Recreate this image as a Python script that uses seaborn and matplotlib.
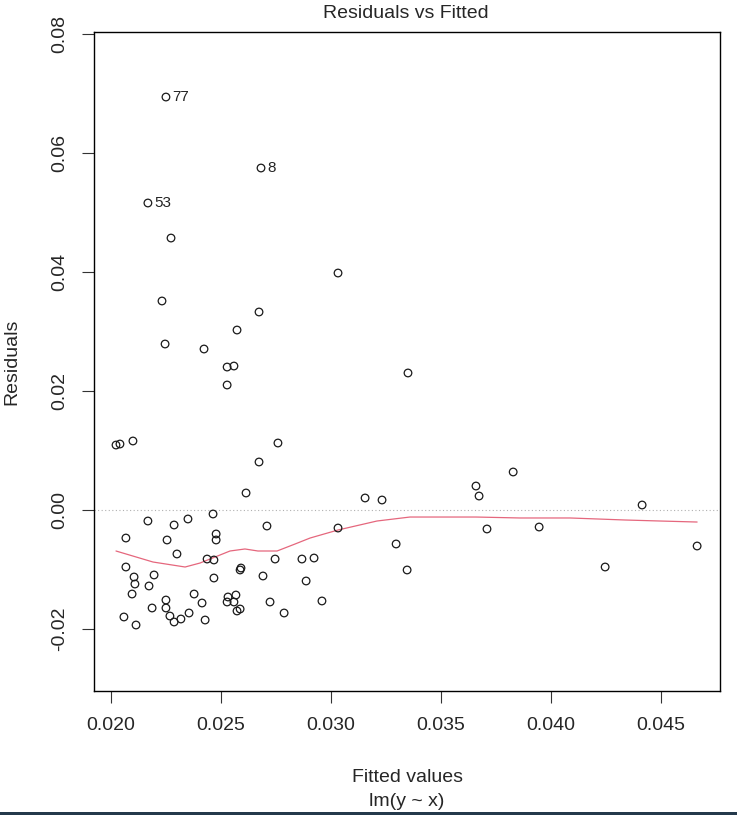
"""
Residuals vs Fitted diagnostic plot (R plot.lm style) rebuilt with seaborn.
"""

import numpy as np
import pandas as pd
import matplotlib
matplotlib.use("Agg")
import matplotlib.pyplot as plt
from matplotlib.patches import Rectangle
import seaborn as sns

fitted = [
    0.02252, 0.02684, 0.02170, 0.02275, 0.03034, 0.02234, 0.02675, 0.02575,
    0.02248, 0.02425, 0.02530, 0.02561, 0.02530, 0.03352, 0.02025, 0.02043,
    0.02102, 0.02761, 0.02675, 0.02616, 0.03830, 0.03661, 0.03675, 0.03157,
    0.03234, 0.04416, 0.02466, 0.02170, 0.02289, 0.02352, 0.02711, 0.03034,
    0.03711, 0.03948, 0.02070, 0.02257, 0.02480, 0.02480, 0.03298, 0.04666,
    0.02302, 0.02439, 0.02470, 0.02748, 0.02870, 0.02925, 0.02070, 0.03348,
    0.04248, 0.02107, 0.02111, 0.02198, 0.02175, 0.02098, 0.02470, 0.02589,
    0.02593, 0.02693, 0.02889, 0.02380, 0.02252, 0.02252, 0.02189, 0.02270,
    0.02289, 0.02320, 0.02357, 0.02416, 0.02430, 0.02534, 0.02570, 0.02530,
    0.02561, 0.02575, 0.02589, 0.02725, 0.02789, 0.02961, 0.02061, 0.02116,
]
resid = [
    0.06941, 0.05748, 0.05160, 0.04571, 0.03983, 0.03513, 0.03328, 0.03025,
    0.02790, 0.02706, 0.02403, 0.02420, 0.02101, 0.02303, 0.01092, 0.01109,
    0.01160, 0.01126, 0.00807, 0.00286, 0.00639, 0.00403, 0.00235, 0.00202,
    0.00168, 0.00084, -0.00067, -0.00185, -0.00252, -0.00151, -0.00269, -0.00303,
    -0.00319, -0.00286, -0.00471, -0.00504, -0.00403, -0.00504, -0.00571, -0.00605,
    -0.00739, -0.00824, -0.00840, -0.00824, -0.00824, -0.00807, -0.00958, -0.01008,
    -0.00958, -0.01126, -0.01244, -0.01092, -0.01277, -0.01412, -0.01143, -0.01008,
    -0.00975, -0.01109, -0.01193, -0.01412, -0.01513, -0.01647, -0.01647, -0.01782,
    -0.01882, -0.01832, -0.01731, -0.01563, -0.01849, -0.01462, -0.01429, -0.01546,
    -0.01546, -0.01697, -0.01664, -0.01546, -0.01731, -0.01529, -0.01798, -0.01933,
]
# observation numbers of the three flagged points (index into the lists above)
flagged_ids = ["77", "8", "53"]
flagged_pos = [0, 1, 2]

# lowess smoother as drawn in the reference
smooth_x = [0.02025, 0.02193, 0.02339, 0.02407, 0.02475, 0.02543, 0.02611,
            0.02670, 0.02757, 0.02839, 0.02907, 0.03034, 0.03211, 0.03361,
            0.03511, 0.03661, 0.03861, 0.04089, 0.04339, 0.04498, 0.04666]
smooth_y = [-0.00689, -0.00874, -0.00958, -0.00891, -0.00790, -0.00689, -0.00655,
            -0.00689, -0.00689, -0.00571, -0.00471, -0.00336, -0.00185, -0.00118,
            -0.00118, -0.00118, -0.00134, -0.00134, -0.00168, -0.00185, -0.00202]

x_ticks = [0.020, 0.025, 0.030, 0.035, 0.040, 0.045]
y_ticks = [-0.02, 0.00, 0.02, 0.04, 0.06, 0.08]

sns.set_style("white")
plt.rcParams["font.family"] = ["Liberation Sans", "DejaVu Sans"]

df = pd.DataFrame({"fitted": fitted, "resid": resid})
smooth = pd.DataFrame({"x": smooth_x, "y": smooth_y})

fig = plt.figure(figsize=(7.37, 8.15), dpi=100)
ax = fig.add_axes([94 / 737, 1 - 691 / 815, 626 / 737, 659 / 815])

ax.axhline(0, color="#b0b0b0", linestyle=(0, (1, 2.2)), linewidth=0.8, zorder=1)
sns.lineplot(data=smooth, x="x", y="y", sort=False, estimator=None,
             color="#E5677D", linewidth=0.9, ax=ax, zorder=2)
sns.scatterplot(data=df, x="fitted", y="resid", ax=ax, s=30, marker="o",
                facecolor="none", edgecolor="#1a1a1a", linewidth=0.9, zorder=3)

for lab, i in zip(flagged_ids, flagged_pos):
    ax.annotate(lab, (fitted[i], resid[i]), xytext=(4.3, 0), textcoords="offset points",
                ha="left", va="center", fontsize=11, color="#222222")

ax.set_xlim(0.01925, 0.04770)
ax.set_ylim(-0.03042, 0.08034)
ax.set_xticks(x_ticks)
ax.set_xticklabels([f"{v:.3f}" for v in x_ticks])
ax.set_yticks(y_ticks)
ax.set_yticklabels([f"{v:.2f}" for v in y_ticks], rotation=90, va="center")
ax.tick_params(axis="both", direction="out", length=8.5, width=0.8, color="#333333",
               labelsize=14, bottom=True, left=True)
ax.tick_params(axis="x", pad=10)
ax.tick_params(axis="y", pad=10)
ax.set_xlabel("")
ax.set_ylabel("")
for sp in ax.spines.values():
    sp.set_color("black")
    sp.set_linewidth(1.0)

fig.text(405.5 / 737, 1 - 13.5 / 815, "Residuals vs Fitted", ha="center", va="center", fontsize=14)
fig.text(407 / 737, 1 - 777 / 815, "Fitted values", ha="center", va="center", fontsize=14)
fig.text(407 / 737, 1 - 801 / 815, "lm(y ~ x)", ha="center", va="center", fontsize=14)
fig.text(12 / 737, 1 - 361.5 / 815, "Residuals", ha="center", va="center", rotation=90, fontsize=14)

# thin dark strip along the bottom edge of the screenshot
fig.patches.append(Rectangle((0, 0), 1, 3 / 815, transform=fig.transFigure,
                             facecolor="#24394b", edgecolor="none"))

fig.savefig("out.png", dpi=100)
plt.close(fig)
